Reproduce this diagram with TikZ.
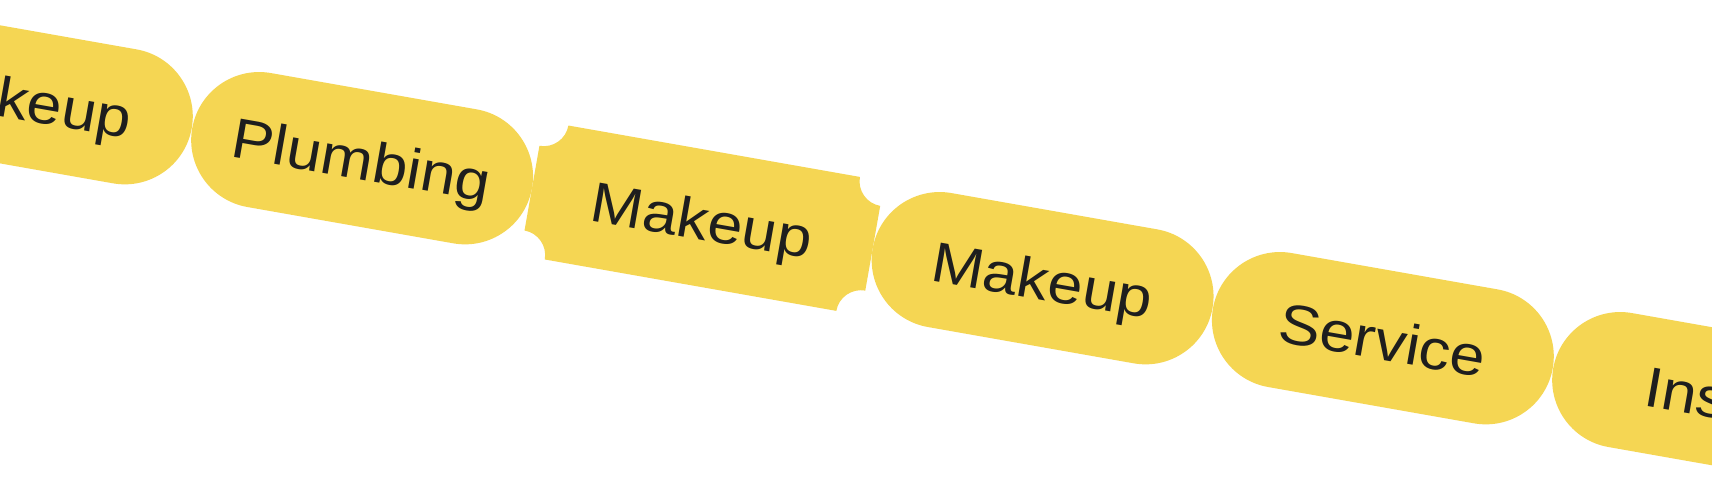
\documentclass[tikz,border=0pt]{standalone}
\usepackage{fontspec}
\newfontfamily\lblfont{Liberation Sans}[FakeStretch=1.11]
\definecolor{pillyellow}{HTML}{F5D653}
\definecolor{inkgray}{HTML}{1E1E1E}
\tikzset{
  lbltext/.style={text=inkgray, font=\lblfont\fontsize{56.5pt}{60pt}\selectfont},
  pill/.style={lbltext, fill=pillyellow, rounded corners=68pt, minimum width=345pt,
    minimum height=136pt, inner sep=0pt, text height=43pt, text depth=0pt, rotate=-10},
  ticketfill/.style={fill=pillyellow},
  ticketlabel/.style={lbltext, inner sep=0pt, text height=43pt, text depth=0pt}
}
\begin{document}
\begin{tikzpicture}
\useasboundingbox (0,0) rectangle (1712pt,-492pt);
\clip (0,0) rectangle (1712pt,-492pt);
\fill[white] (0,0) rectangle (1712pt,-492pt);
% pills
\node[pill] (makeupA) at (21.85pt,-98.2pt) {Makeup};
\node[pill] (plumbing) at (362.1pt,-158.2pt) {Plumbing};
\begin{scope}[shift={(702.35pt,-218.2pt)}, rotate=-10, transform shape]
  \fill[ticketfill] (-148pt,68pt) -- (148pt,68pt)
    arc[start angle=180,end angle=270,radius=25pt] -- (173pt,-43pt)
    arc[start angle=90,end angle=180,radius=25pt] -- (-148pt,-68pt)
    arc[start angle=0,end angle=90,radius=25pt] -- (-173pt,43pt)
    arc[start angle=270,end angle=360,radius=25pt] -- cycle;
  \node[ticketlabel] (ticket) at (0,0) {Makeup};
\end{scope}
\node[pill] (makeupB) at (1042.6pt,-278.2pt) {Makeup};
\node[pill] (service) at (1382.85pt,-338.2pt) {Service};
\begin{scope}[shift={(1723.1pt,-398.2pt)}, rotate=-10, transform shape]
  \node[pill, rotate=10] (inspill) at (0,0) {};
  \node[lbltext, inner sep=0pt, anchor=base west] (ins) at (-78.4pt,-21.5pt) {Ins};
\end{scope}
\end{tikzpicture}
\end{document}
